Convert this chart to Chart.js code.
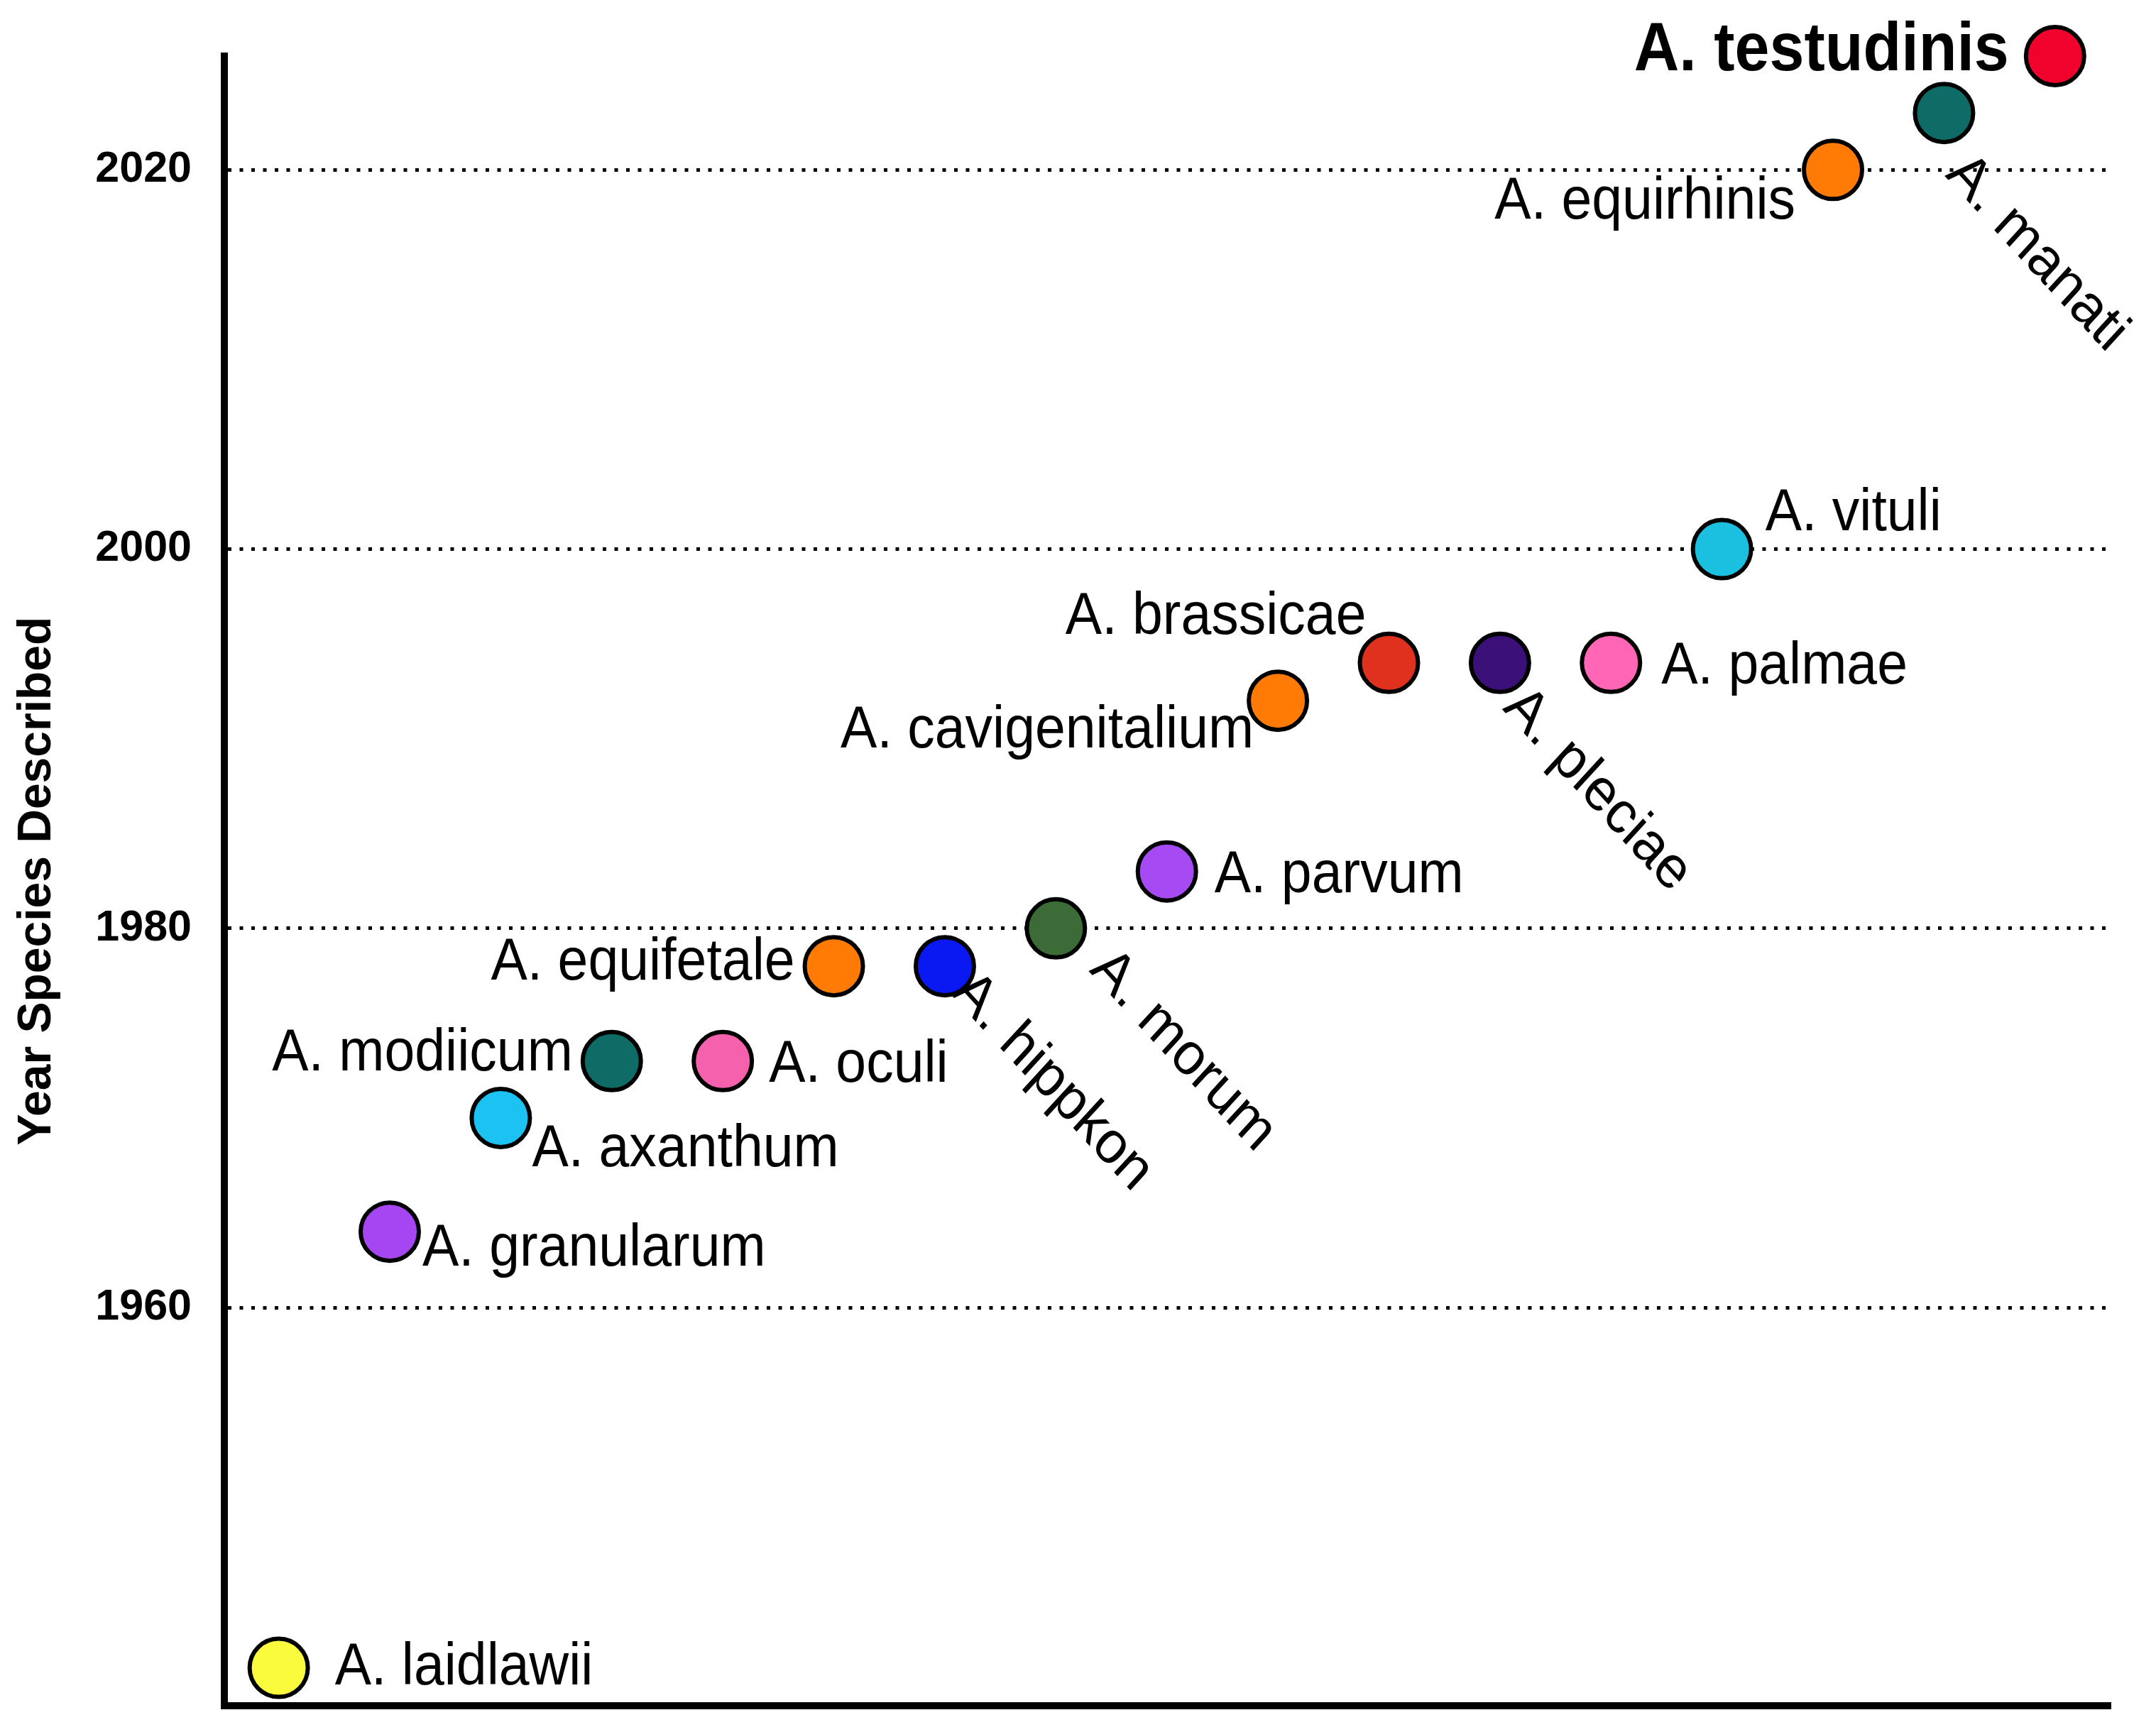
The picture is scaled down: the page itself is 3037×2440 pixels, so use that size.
<!DOCTYPE html>
<html>
<head>
<meta charset="utf-8">
<script src="https://cdn.jsdelivr.net/npm/chart.js@4.4.0/dist/chart.umd.min.js"></script>
<style>
html,body{margin:0;padding:0;background:#ffffff;}
#wrap{width:3037px;height:2440px;position:relative;}
</style>
</head>
<body>
<div id="wrap"><canvas id="c"></canvas></div>
<script>
// ---- data ----
const species = [
  'A. laidlawii', 'A. granularum', 'A. axanthum', 'A. modiicum', 'A. oculi',
  'A. equifetale', 'A. hippkon', 'A. morum', 'A. parvum', 'A. cavigenitalium',
  'A. brassicae', 'A. pleciae', 'A. palmae', 'A. vituli', 'A. equirhinis',
  'A. manati', 'A. testudinis'
];
const order = [0, 1, 2, 3, 4, 5, 6, 7, 8, 9, 10, 11, 12, 13, 14, 15, 16];
const years = [1941, 1964, 1970, 1973, 1973, 1978, 1978, 1980, 1983, 1992, 1994, 1994, 1994, 2000, 2020, 2023, 2026];
const pointColors = [
  '#fbfb3e', '#a646f3', '#1bc2f2', '#0f6b66', '#f561ad',
  '#ff7b05', '#0a18f2', '#3d6b37', '#a64af3', '#ff7b05',
  '#e0311f', '#3b1079', '#ff66b6', '#1bbfdf', '#ff7b05',
  '#0f6b66', '#f1022c'
];
const yTickValues = [1960, 1980, 2000, 2020];
const yTitle = 'Year Species Described';

// ---- label placement (style, not data) ----
const labelLayout = [
  {side: 'R', dx: 79, dy: 0},
  {side: 'R', dx: 46, dy: 25},
  {side: 'R', dx: 44, dy: 45},
  {side: 'L', dx: -55, dy: -10},
  {side: 'R', dx: 65, dy: 6},
  {side: 'L', dx: -55, dy: -4},
  {side: 'D', a: 32, p: 0},
  {side: 'D', a: 74, p: -12},
  {side: 'R', dx: 67, dy: 6},
  {side: 'L', dx: -34, dy: 43},
  {side: 'L', dx: -32, dy: -64},
  {side: 'D', a: 47, p: 22},
  {side: 'R', dx: 71, dy: 6},
  {side: 'R', dx: 61, dy: -50},
  {side: 'L', dx: -53, dy: 46},
  {side: 'D', a: 62, p: 40},
  {side: 'L', dx: -65, dy: -6, bold: true}
];
const STRETCH = 1.09;

const FONT = '"Liberation Sans", Arial, Helvetica, sans-serif';

const labelPlugin = {
  id: 'pointLabels',
  afterDatasetsDraw(chart) {
    const ctx = chart.ctx;
    const meta = chart.getDatasetMeta(0);
    meta.data.forEach((el, i) => {
      const L = labelLayout[i];
      const txt = species[i];
      ctx.save();
      ctx.fillStyle = '#000';
      ctx.font = (L.bold ? 'bold 88px ' : '77px ') + FONT;
      ctx.textBaseline = 'middle';
      if (L.side === 'D') {
        const c = Math.SQRT1_2;
        const ax = el.x + L.a * c - L.p * c;
        const ay = el.y + L.a * c + L.p * c;
        ctx.translate(ax, ay);
        ctx.scale(1, STRETCH);
        ctx.rotate(Math.PI / 4);
        ctx.textAlign = 'left';
        ctx.fillText(txt, 0, 0);
      } else {
        ctx.translate(el.x + L.dx, el.y + L.dy);
        ctx.scale(1, STRETCH);
        ctx.textAlign = L.side === 'R' ? 'left' : 'right';
        ctx.fillText(txt, 0, 0);
      }
      ctx.restore();
    });
  }
};

const points = order.map(i => ({x: i, y: years[i]}));

new Chart(document.getElementById('c'), {
  type: 'scatter',
  data: {
    datasets: [{
      data: points,
      backgroundColor: pointColors,
      borderColor: '#000000',
      borderWidth: 6,
      pointRadius: 41,
      pointHoverRadius: 41,
      clip: false
    }]
  },
  options: {
    responsive: true,
    maintainAspectRatio: false,
    devicePixelRatio: 1,
    animation: false,
    events: [],
    layout: {autoPadding: false, padding: {top: 79, right: 64, left: 0, bottom: 0}},
    plugins: {legend: {display: false}, tooltip: {enabled: false}},
    scales: {
      x: {
        type: 'linear',
        min: -0.49,
        max: 16.5,
        ticks: {display: false},
        grid: {display: false},
        border: {display: true, width: 10, color: '#000000'},
        afterFit(s) { s.height = 37; s.paddingLeft = 0; s.paddingRight = 0; }
      },
      y: {
        type: 'linear',
        min: 1939,
        max: 2026,
        afterBuildTicks(axis) { axis.ticks = yTickValues.map(v => ({value: v})); },
        ticks: {
          callback: v => String(v),
          color: '#000000',
          padding: 46,
          font: {family: FONT, size: 61, weight: 'bold'}
        },
        grid: {color: '#000000', lineWidth: 5, drawTicks: false},
        border: {display: true, width: 10, color: '#000000', dash: [5, 11.5]},
        title: {
          display: true,
          text: yTitle,
          color: '#000000',
          font: {family: FONT, size: 66, weight: 'bold'},
          padding: {top: 13, bottom: 0}
        },
        afterFit(s) { s.width = 316; s.paddingTop = 0; s.paddingBottom = 0; }
      }
    }
  },
  plugins: [labelPlugin]
});
</script>
</body>
</html>
